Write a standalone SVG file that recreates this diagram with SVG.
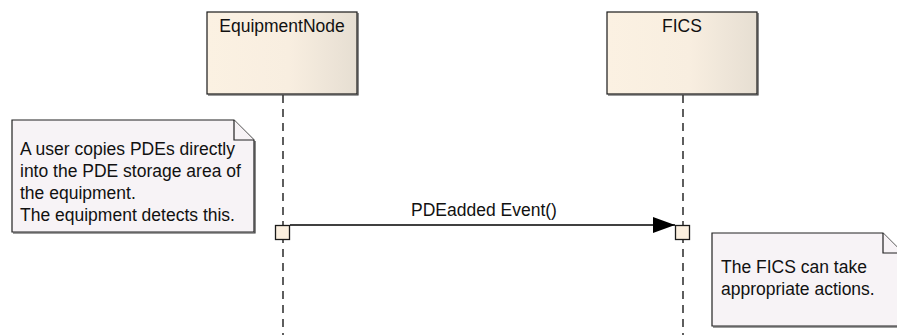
<svg xmlns="http://www.w3.org/2000/svg" width="897" height="335" viewBox="0 0 897 335">
  <style>
    .txt { font-family: "Liberation Sans", Arial, sans-serif; font-size: 17.5px; fill: #111; }
    .box { stroke: #1a1a1a; stroke-width: 1.2; }
    .shadow { fill: none; stroke: #3a3a3a; stroke-width: 1.2; }
    .life { stroke: #1a1a1a; stroke-width: 1.4; stroke-dasharray: 8 6; fill: none; }
    .act { fill: #FBEFDF; stroke: #1a1a1a; stroke-width: 1.3; }
    .note { fill: #F7F3F6; stroke: #222; stroke-width: 1.2; }
  </style>
  <defs>
    <linearGradient id="lifeFill" x1="0" y1="0" x2="1" y2="0">
      <stop offset="0" stop-color="#FBF1E2"/>
      <stop offset="0.55" stop-color="#F8EEE0"/>
      <stop offset="1" stop-color="#E6DED2"/>
    </linearGradient>
    <marker id="arrow" markerWidth="22" markerHeight="16" refX="22" refY="8" orient="auto" markerUnits="userSpaceOnUse">
      <path d="M0,0 L22,8 L0,16 Z" fill="#000"/>
    </marker>
  </defs>

  <g id="EquipmentNode">
    <line class="life" x1="283" y1="95" x2="283" y2="335"/>
    <rect class="box" x="207" y="12" width="150" height="82" fill="url(#lifeFill)"/>
    <path class="shadow" d="M208,95 H358 V13"/>
    <text class="txt" x="282" y="32" text-anchor="middle">EquipmentNode</text>
    <rect class="act" x="275.5" y="225.5" width="14" height="14"/>
  </g>

  <g id="FICS">
    <line class="life" x1="683" y1="95" x2="683" y2="335"/>
    <rect class="box" x="607" y="12" width="150" height="82" fill="url(#lifeFill)"/>
    <path class="shadow" d="M608,95 H758 V13"/>
    <text class="txt" x="682" y="32" text-anchor="middle">FICS</text>
    <rect class="act" x="675.5" y="225.5" width="14" height="14"/>
  </g>

  <g id="note1">
    <path class="note" d="M12,120 H234 L254,140 V232 H12 Z"/>
    <path class="note" d="M234,120 V140 H254"/>
    <path class="shadow" d="M13,233 H255 V141"/>
    <text class="txt" x="20" y="155">A user copies PDEs directly</text>
    <text class="txt" x="20" y="177">into the PDE storage area of</text>
    <text class="txt" x="20" y="199">the equipment.</text>
    <text class="txt" x="20" y="221">The equipment detects this.</text>
  </g>

  <g id="note2">
    <path class="note" d="M712,233 H883 L903,253 V326 H712 Z"/>
    <path class="note" d="M883,233 V253 H903"/>
    <path class="shadow" d="M713,327 H903"/>
    <text class="txt" x="721" y="273">The FICS can take</text>
    <text class="txt" x="721" y="295">appropriate actions.</text>
  </g>

  <g id="connectors">
    <line x1="290" y1="225" x2="675" y2="225" stroke="#000" stroke-width="1.3" marker-end="url(#arrow)"/>
    <text class="txt" x="484" y="216" text-anchor="middle">PDEadded Event()</text>
  </g>
</svg>
